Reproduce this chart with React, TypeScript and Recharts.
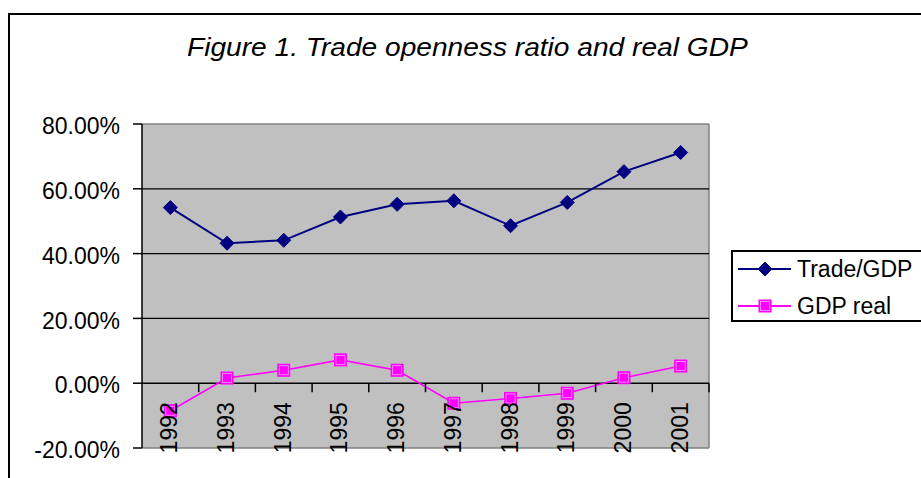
import {
  LineChart,
  Line,
  XAxis,
  YAxis,
  CartesianGrid,
  ReferenceLine,
} from "recharts";

// ── Data ──────────────────────────────────────────────────────────────────────
const years = ["1992", "1993", "1994", "1995", "1996", "1997", "1998", "1999", "2000", "2001"];
const tradeGdp = [54.2, 43.2, 44.1, 51.3, 55.2, 56.3, 48.6, 55.8, 65.3, 71.2];
const gdpReal = [-8.5, 1.6, 4.0, 7.2, 4.0, -6.2, -4.7, -3.1, 1.7, 5.3];
const yTicks = [-20, 0, 20, 40, 60, 80];
const gridValues = [20, 40, 60];
const seriesNames = ["Trade/GDP", "GDP real"];
const titleText = "Figure 1. Trade openness ratio and real GDP";

const data = years.map((year, i) => ({
  year,
  trade: tradeGdp[i],
  gdp: gdpReal[i],
}));

// ── Layout ────────────────────────────────────────────────────────────────────
const W = 921;
const H = 478;
const MARGIN = { top: 124, right: 212, bottom: 0, left: 0 };
const Y_AXIS_W = 142;
const X_AXIS_H = 30;
const PLOT_W = W - MARGIN.left - MARGIN.right - Y_AXIS_W;
const PLOT_H = H - MARGIN.top - MARGIN.bottom - X_AXIS_H;
const Y_MIN = yTicks[0];
const Y_MAX = yTicks[yTicks.length - 1];
// distance from plot bottom up to the 0% line
const ZERO_FROM_BOTTOM = (PLOT_H * (0 - Y_MIN)) / (Y_MAX - Y_MIN);
const HALF_BAND = PLOT_W / years.length / 2;

const FONT = '"Liberation Sans", Arial, sans-serif';
const NAVY = "#000080";
const MAGENTA = "#ff00ff";

// ── Markers ───────────────────────────────────────────────────────────────────
function Diamond({ cx, cy }: { cx?: number; cy?: number }) {
  if (cx == null || cy == null) return null;
  const r = 7;
  return (
    <polygon
      points={`${cx},${cy - r} ${cx + r},${cy} ${cx},${cy + r} ${cx - r},${cy}`}
      fill={NAVY}
      stroke={NAVY}
    />
  );
}

function Square({ cx, cy }: { cx?: number; cy?: number }) {
  if (cx == null || cy == null) return null;
  const s = 12;
  return (
    <g>
      <rect x={cx - s / 2} y={cy - s / 2} width={s} height={s} fill={MAGENTA} stroke={MAGENTA} />
      <rect
        x={cx - s / 2 + 1.5}
        y={cy - s / 2 + 1.5}
        width={s - 3}
        height={s - 3}
        fill="none"
        stroke="#ff9cff"
        strokeWidth={0.8}
      />
    </g>
  );
}

// ── Year tick: sits under the 0% line, rotated ────────────────────────────────
function YearTick(props: any) {
  const { x, y, payload } = props;
  const zeroY = y - ZERO_FROM_BOTTOM;
  const labelTop = zeroY + 19;
  return (
    <g>
      <line
        x1={x + HALF_BAND}
        x2={x + HALF_BAND}
        y1={zeroY}
        y2={zeroY + 9}
        stroke="#000"
        strokeWidth={1.5}
      />
      <text
        x={x}
        y={labelTop}
        dy={7}
        textAnchor="end"
        transform={`rotate(-90, ${x}, ${labelTop})`}
        fontFamily={FONT}
        fontSize={23}
        fill="#000"
      >
        {payload.value}
      </text>
    </g>
  );
}

// ── Legend (its right edge runs past the picture) ─────────────────────────────
function LegendBox() {
  const rows = [
    { name: seriesNames[0], color: NAVY, marker: <Diamond cx={27} cy={10} /> },
    { name: seriesNames[1], color: MAGENTA, marker: <Square cx={27} cy={10} /> },
  ];
  return (
    <div
      style={{
        position: "absolute",
        left: 731,
        top: 250,
        width: 300,
        height: 68,
        borderTop: "2px solid #000",
        borderBottom: "2px solid #000",
        borderLeft: "2px solid #000",
        background: "#fff",
        fontFamily: FONT,
        fontSize: 23,
      }}
    >
      {rows.map((row, i) => (
        <div
          key={row.name}
          style={{
            position: "absolute",
            left: 5,
            top: 7 + i * 37,
            height: 20,
            display: "flex",
            alignItems: "center",
          }}
        >
          <svg width={54} height={20} style={{ display: "block" }}>
            <line x1={0} x2={53} y1={10} y2={10} stroke={row.color} strokeWidth={2} />
            {row.marker}
          </svg>
          <span style={{ marginLeft: 5, lineHeight: "20px", whiteSpace: "nowrap" }}>
            {row.name}
          </span>
        </div>
      ))}
    </div>
  );
}

// ── Main ──────────────────────────────────────────────────────────────────────
export default function App() {
  return (
    <div
      style={{
        position: "fixed",
        left: 0,
        top: 0,
        width: W,
        height: H,
        overflow: "hidden",
        background: "#fff",
      }}
    >
      {/* outer chart frame (only top and left edges fall inside the picture) */}
      <div style={{ position: "absolute", left: 8, top: 13, width: W, height: 2, background: "#000" }} />
      <div style={{ position: "absolute", left: 8, top: 13, width: 2, height: H, background: "#000" }} />

      <div
        style={{
          position: "absolute",
          left: 187,
          top: 32,
          fontFamily: FONT,
          fontStyle: "italic",
          fontSize: 25,
          lineHeight: "30px",
          whiteSpace: "nowrap",
          transform: "scaleX(1.125)",
          transformOrigin: "0 0",
        }}
      >
        {titleText}
      </div>

      <div style={{ position: "absolute", left: 0, top: 0 }}>
        <LineChart width={W} height={H} data={data} margin={MARGIN}>
          {/* grey plot area with grey border on top, right and bottom */}
          <CartesianGrid
            fill="#c0c0c0"
            fillOpacity={1}
            stroke="#808080"
            strokeWidth={1.5}
            horizontalCoordinatesGenerator={({ offset }: any) => [
              offset.top,
              offset.top + offset.height,
            ]}
            verticalCoordinatesGenerator={({ offset }: any) => [offset.left + offset.width]}
          />
          {gridValues.map((v) => (
            <ReferenceLine key={v} y={v} stroke="#000" strokeWidth={1.2} />
          ))}
          <ReferenceLine y={0} stroke="#000" strokeWidth={1.5} />

          <XAxis
            dataKey="year"
            height={X_AXIS_H}
            padding={{ left: HALF_BAND, right: HALF_BAND }}
            axisLine={false}
            tickLine={false}
            tickSize={0}
            tickMargin={0}
            interval={0}
            tick={<YearTick />}
          />
          <YAxis
            width={Y_AXIS_W}
            domain={[Y_MIN, Y_MAX]}
            ticks={yTicks}
            interval={0}
            tickFormatter={(v: number) => `${v.toFixed(2)}%`}
            axisLine={{ stroke: "#000", strokeWidth: 1.5 }}
            tickLine={{ stroke: "#000", strokeWidth: 1.5 }}
            tickSize={9}
            tickMargin={13}
            tick={{ fontFamily: FONT, fontSize: 23, fill: "#000", dy: 2 }}
          />

          <Line
            dataKey="trade"
            name={seriesNames[0]}
            type="linear"
            stroke={NAVY}
            strokeWidth={2}
            dot={<Diamond />}
            activeDot={false}
            isAnimationActive={false}
          />
          <Line
            dataKey="gdp"
            name={seriesNames[1]}
            type="linear"
            stroke={MAGENTA}
            strokeWidth={1.6}
            dot={<Square />}
            activeDot={false}
            isAnimationActive={false}
          />
        </LineChart>
      </div>

      <LegendBox />
    </div>
  );
}
